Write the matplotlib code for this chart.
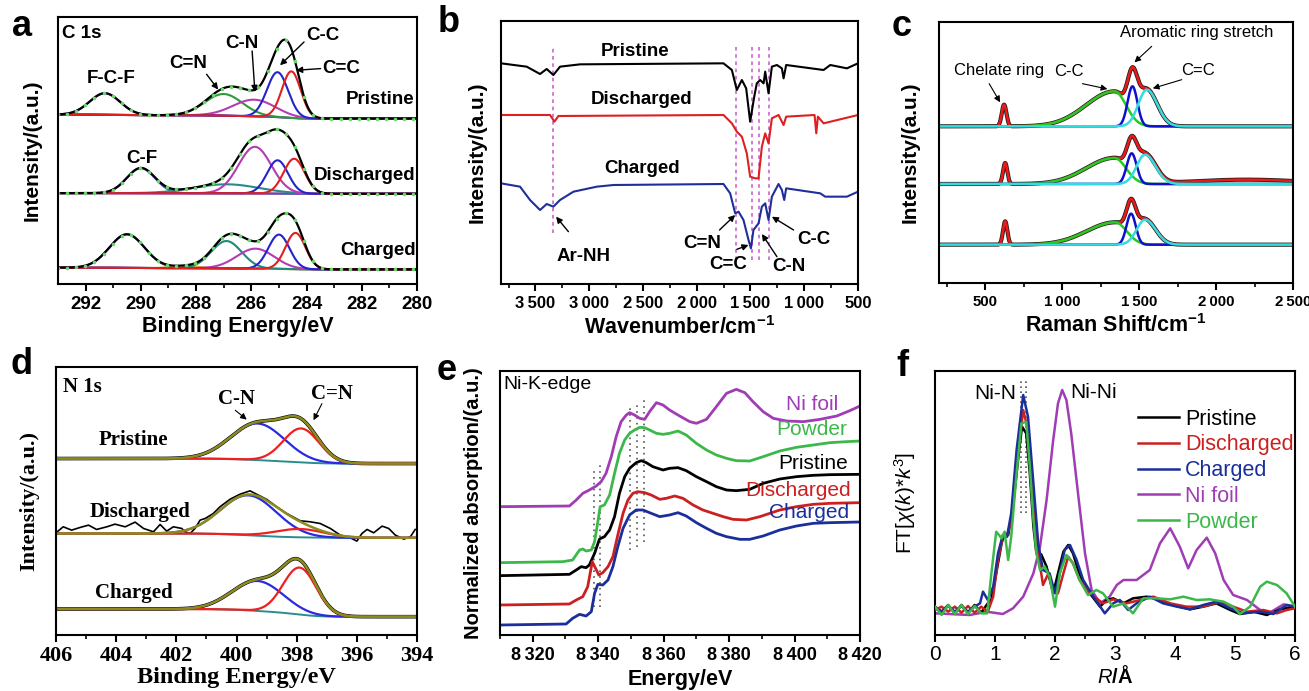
import numpy as np
import matplotlib
matplotlib.use('Agg')
import matplotlib.pyplot as plt
from matplotlib.ticker import FixedLocator

plt.rcParams['font.family'] = ['Liberation Sans', 'DejaVu Sans']
plt.rcParams['mathtext.fontset'] = 'custom'
plt.rcParams['mathtext.rm'] = 'Liberation Sans'
plt.rcParams['mathtext.it'] = 'Liberation Sans:italic'
plt.rcParams['mathtext.bf'] = 'Liberation Sans:bold'
plt.rcParams['mathtext.default'] = 'regular'
plt.rcParams['axes.linewidth'] = 1.5

TS = '\u2009'

# ====================== DATA ======================
# ---- (a) C 1s XPS : peak-fit components (centre eV, height a.u., FWHM eV)
a_names = ['Pristine', 'Discharged', 'Charged']
a_base_left = [509, 273, 49]     # background level at 293 eV
a_base_right = [497, 271, 44]    # background level at 280 eV
a_pris_center = [291.3, 287.0, 285.9, 285.05, 284.55]
a_pris_amp = [65, 65, 50, 135, 140]
a_pris_fwhm = [1.3, 1.6, 1.8, 0.9, 0.8]
a_dis_center = [290.0, 286.9, 285.87, 285.05, 284.45]
a_dis_amp = [75, 27, 140, 100, 105]
a_dis_fwhm = [1.2, 2.8, 1.4, 0.9, 0.9]
a_chg_center = [290.5, 288.4, 286.9, 285.85, 285.0, 284.4]
a_chg_amp = [101, 6, 82, 60, 103, 109]
a_chg_fwhm = [1.5, 1.2, 1.3, 1.6, 0.9, 0.85]

# ---- (b) FTIR spectra (wavenumber, transmittance a.u.)
b_pris_wn = [3820, 3581, 3457, 3395, 3333, 3271, 3084, 1751, 1673, 1627, 1580, 1540, 1503, 1465,
             1441, 1410, 1378, 1363, 1332, 1301, 1254, 1208, 1192, 1168, 820, 758, 603, 500]
b_pris_y = [662, 652, 630, 645, 627, 652, 659, 662, 642, 582, 612, 587, 487, 562,
            602, 612, 602, 637, 572, 652, 657, 647, 617, 657, 642, 657, 647, 662]
b_dis_wn = [3820, 3364, 3323, 3286, 1751, 1673, 1627, 1580, 1534, 1503, 1456, 1425, 1394, 1363,
            1332, 1301, 1239, 1192, 1168, 904, 888, 873, 820, 500]
b_dis_y = [507, 507, 487, 504, 507, 482, 457, 442, 392, 322, 317, 317, 412, 452,
           422, 497, 507, 477, 502, 507, 452, 502, 482, 507]
b_chg_wn = [3820, 3643, 3550, 3457, 3395, 3333, 3271, 3146, 2929, 2774, 1751, 1689, 1642, 1611,
            1565, 1518, 1496, 1472, 1425, 1394, 1363, 1332, 1301, 1239, 1208, 1186, 1168, 851,
            805, 603, 500]
b_chg_y = [302, 292, 252, 222, 240, 232, 252, 277, 292, 297, 300, 272, 212, 217,
           192, 132, 107, 162, 182, 232, 242, 192, 262, 300, 282, 252, 287, 272,
           262, 262, 277]
b_marker_wn = [3333, 1633, 1487, 1425, 1332]

# ---- (c) Raman : components (centre cm-1, height, sigma left, sigma right)
c_base = [470, 297, 115]
c_chel = [[623, 65, 15, 15], [630, 63, 14, 14], [630, 70, 14, 14]]
c_cc = [[1340, 105, 185, 75], [1340, 78, 185, 75], [1344, 67, 185, 75]]
c_arom = [[1457, 120, 32, 32], [1452, 92, 32, 32], [1448, 93, 30, 30]]
c_ceqc = [[1550, 110, 55, 68], [1539, 88, 55, 68], [1539, 75, 55, 68]]
c_broad = [[2200, 0, 350, 350], [2200, 13, 350, 350], [2200, 0, 350, 350]]

# ---- (d) N 1s XPS : components (centre eV, height, FWHM eV)
d_names = ['Pristine', 'Discharged', 'Charged']
d_base_left = [530, 305, 78]
d_base_right = [515, 292, 55]
d_cn_center = [399.3, 399.6, 399.3]
d_cn_amp = [110, 120, 90]
d_cn_fwhm = [2.1, 2.2, 2.0]
d_ceqn_center = [397.85, 397.9, 397.9]
d_ceqn_amp = [102, 25, 141]
d_ceqn_fwhm = [1.4, 1.9, 1.3]
d_dis_raw_be = [406.0, 405.76, 405.48, 405.2, 404.92, 404.65, 404.31, 404.04, 403.7, 403.37,
                403.09, 402.76, 402.54, 402.32, 402.1, 401.82, 401.71, 401.54, 401.38, 401.21,
                401.04, 400.77, 400.55, 400.21, 399.88, 399.55, 399.27, 398.99, 398.66, 398.33,
                397.88, 397.55, 397.22, 396.88, 396.55, 396.22, 396.0, 395.83, 395.66, 395.44,
                395.16, 394.94, 394.72, 394.44, 394.22, 394.06]
d_dis_raw_y = [307, 325, 315, 323, 330, 317, 325, 333, 325, 339,
               320, 310, 332, 312, 325, 320, 310, 305, 320, 345,
               350, 365, 385, 408, 423, 433, 420, 407, 385, 365,
               343, 340, 335, 320, 300, 292, 282, 305, 317, 307,
               327, 320, 300, 288, 295, 317]

# ---- (e) Ni K-edge XANES (energy eV, absorption a.u.)
e_foil_E = [8310, 8331.2, 8333.3, 8335.3, 8337.3, 8339.4, 8340.9, 8342.4, 8344.0, 8345.5, 8347.0,
            8348.6, 8349.6, 8351.1, 8352.7, 8354.2, 8355.7, 8357.8, 8359.8, 8361.8, 8364.9, 8368.0,
            8370.0, 8373.1, 8376.1, 8379.2, 8382.2, 8384.8, 8387.3, 8390.4, 8393.5, 8397.6, 8402.7,
            8407.8, 8412.9, 8416.9, 8420]
e_foil_y = [385, 387, 405, 425, 435, 447, 460, 485, 535, 595, 640,
            660, 667, 660, 650, 647, 670, 697, 690, 675, 657, 640,
            635, 647, 685, 725, 737, 727, 700, 670, 650, 642, 640,
            647, 657, 673, 687]
e_pow_E = [8310, 8329.2, 8332.2, 8334.3, 8335.3, 8336.3, 8337.9, 8338.9, 8339.9, 8340.6, 8341.9,
           8343.5, 8345.0, 8346.5, 8348.1, 8349.6, 8351.1, 8352.7, 8354.2, 8355.7, 8357.8, 8359.8,
           8361.8, 8364.4, 8366.9, 8370.0, 8373.1, 8376.1, 8379.2, 8382.2, 8386.3, 8390.4, 8395.5,
           8400.6, 8405.7, 8410.8, 8415.9, 8420]
e_pow_y = [217, 220, 225, 255, 258, 252, 255, 280, 340, 385, 390,
           420, 485, 545, 585, 605, 615, 623, 622, 615, 605, 602,
           605, 612, 600, 575, 555, 540, 530, 523, 522, 535, 552,
           563, 570, 577, 580, 582]
e_pris_E = [8310, 8331.2, 8333.3, 8334.8, 8336.3, 8337.3, 8338.9, 8340.4, 8341.9, 8343.5, 8345.0,
            8346.5, 8348.1, 8349.6, 8351.6, 8353.2, 8354.7, 8356.7, 8359.8, 8361.8, 8364.4, 8366.9,
            8370.0, 8373.1, 8376.1, 8379.2, 8382.2, 8386.3, 8390.4, 8395.5, 8400.6, 8405.7, 8410.8,
            8420]
e_pris_y = [178, 182, 195, 205, 202, 210, 245, 288, 295, 315, 355,
            425, 475, 500, 517, 523, 517, 505, 495, 500, 502, 493,
            475, 460, 445, 435, 433, 437, 455, 468, 475, 479, 481,
            482]
e_dis_E = [8310, 8331.2, 8333.3, 8335.3, 8336.8, 8338.2, 8339.2, 8340.2, 8341.4, 8343.0, 8344.5,
           8346.0, 8347.6, 8349.1, 8350.6, 8352.1, 8354.2, 8356.2, 8358.8, 8360.8, 8363.4, 8365.9,
           8369.0, 8372.0, 8375.1, 8378.2, 8381.2, 8385.3, 8389.4, 8395.5, 8400.6, 8405.7, 8410.8,
           8420]
e_dis_y = [90, 93, 105, 115, 145, 220, 200, 180, 187, 205, 235,
           300, 365, 405, 425, 430, 427, 420, 407, 410, 417, 410,
           390, 375, 365, 355, 347, 345, 355, 375, 385, 392, 395,
           397]
e_chg_E = [8310, 8330.2, 8332.2, 8334.3, 8336.3, 8337.9, 8338.9, 8339.9, 8341.4, 8343.0, 8344.5,
           8346.0, 8347.6, 8349.6, 8351.6, 8353.7, 8355.7, 8358.8, 8361.8, 8364.4, 8366.9, 8370.0,
           8373.1, 8376.1, 8379.2, 8383.3, 8386.3, 8390.4, 8395.5, 8400.6, 8405.7, 8410.8, 8420]
e_chg_y = [30, 33, 50, 62, 57, 70, 125, 152, 150, 165, 205,
           265, 320, 360, 375, 375, 367, 355, 360, 367, 357, 337,
           320, 305, 295, 287, 287, 297, 315, 327, 335, 337, 339]
e_guide_E = [8338.6, 8340.5, 8349.8, 8352.0, 8353.9]
e_guide_lo = [85, 85, 255, 265, 280]
e_guide_hi = [500, 520, 685, 700, 710]

# ---- (f) EXAFS FT (R in Angstrom, magnitude a.u.)
f_pris_R = [0, 0.11, 0.22, 0.33, 0.44, 0.55, 0.66, 0.77, 0.88, 0.94, 1.02, 1.11, 1.16, 1.22, 1.30,
            1.39, 1.45, 1.52, 1.58, 1.64, 1.69, 1.77, 1.86, 1.97, 2.05, 2.14, 2.22, 2.30, 2.41, 2.58,
            2.75, 2.86, 2.97, 3.14, 3.30, 3.53, 3.75, 3.97, 4.25, 4.47, 4.69, 4.92, 5.08, 5.31, 5.53,
            5.75, 6.0]
f_pris_y = [85, 70, 90, 65, 90, 67, 90, 67, 95, 105, 185, 275, 305, 300, 385,
            535, 625, 605, 485, 325, 245, 242, 205, 125, 185, 250, 270, 245, 180, 125,
            85, 105, 110, 95, 110, 115, 105, 90, 77, 85, 95, 75, 63, 70, 60,
            77, 85]
f_dis_R = [0, 0.11, 0.22, 0.33, 0.44, 0.55, 0.66, 0.77, 0.88, 0.97, 1.05, 1.13, 1.20, 1.27, 1.36,
           1.47, 1.55, 1.64, 1.72, 1.80, 1.89, 1.97, 2.05, 2.14, 2.22, 2.30, 2.41, 2.58, 2.80, 2.97,
           3.19, 3.42, 3.64, 3.92, 4.19, 4.47, 4.75, 4.97, 5.20, 5.47, 5.70, 5.86, 6.0]
f_dis_y = [75, 85, 70, 85, 67, 87, 67, 85, 70, 115, 225, 295, 295, 345, 515,
           675, 615, 415, 245, 150, 185, 135, 125, 185, 235, 215, 165, 125, 95, 107,
           95, 105, 115, 95, 85, 85, 100, 85, 70, 75, 65, 75, 80]
f_chg_R = [0, 0.11, 0.22, 0.33, 0.44, 0.55, 0.66, 0.75, 0.80, 0.88, 0.97, 1.05, 1.13, 1.20, 1.27,
           1.36, 1.47, 1.55, 1.64, 1.72, 1.80, 1.91, 2.00, 2.08, 2.16, 2.25, 2.36, 2.47, 2.64, 2.83,
           2.97, 3.08, 3.22, 3.36, 3.58, 3.80, 4.03, 4.25, 4.47, 4.69, 4.92, 5.14, 5.42, 5.64, 5.86,
           6.0]
f_chg_y = [80, 70, 87, 70, 87, 70, 85, 95, 130, 105, 145, 245, 300, 295, 365,
           555, 720, 655, 455, 275, 195, 185, 125, 185, 255, 270, 225, 165, 115, 65,
           95, 105, 75, 95, 115, 95, 85, 77, 90, 100, 80, 65, 70, 63, 90,
           85]
f_foil_R = [0, 0.58, 0.86, 1.13, 1.30, 1.47, 1.64, 1.75, 1.86, 1.97, 2.05, 2.12, 2.19, 2.27, 2.39,
            2.50, 2.61, 2.75, 2.91, 3.03, 3.14, 3.36, 3.58, 3.75, 3.92, 4.08, 4.22, 4.36, 4.53, 4.67,
            4.81, 4.97, 5.20, 5.42, 5.58, 5.81, 6.0]
f_foil_y = [65, 60, 70, 63, 80, 115, 185, 265, 405, 585, 695, 735, 705, 605, 415,
            245, 135, 95, 115, 150, 165, 165, 195, 275, 320, 265, 200, 255, 292, 245,
            165, 120, 105, 75, 67, 92, 85]
f_pow_R = [0, 0.11, 0.22, 0.33, 0.44, 0.55, 0.66, 0.77, 0.87, 0.94, 1.02, 1.11, 1.16, 1.22, 1.27,
           1.36, 1.44, 1.52, 1.58, 1.64, 1.69, 1.75, 1.83, 1.91, 2.00, 2.08, 2.19, 2.30, 2.41, 2.55,
           2.69, 2.80, 2.97, 3.14, 3.30, 3.47, 3.69, 3.92, 4.14, 4.36, 4.58, 4.81, 4.97, 5.08, 5.25,
           5.42, 5.53, 5.70, 5.86, 6.0]
f_pow_y = [85, 60, 90, 63, 90, 63, 87, 65, 65, 185, 310, 290, 310, 225, 295,
           485, 635, 640, 505, 345, 245, 195, 205, 175, 85, 185, 240, 215, 165, 120,
           135, 125, 85, 95, 65, 110, 110, 107, 115, 105, 107, 100, 85, 63, 85,
           145, 160, 150, 125, 85]
f_guide_R = [1.44, 1.51]

# ====================== HELPERS ======================
def gauss(x, c, a, fwhm):
    return a * np.exp(-4 * np.log(2) * (x - c) ** 2 / fwhm ** 2)

def split_gauss(x, c, a, sl, sr):
    s = np.where(x < c, sl, sr)
    return a * np.exp(-(x - c) ** 2 / (2 * s ** 2))

def shirley(p, left, right):
    cum = np.cumsum(p[::-1])[::-1]
    return right + (left - right) * cum / cum[0]

W, H = 1309, 691
fig = plt.figure(figsize=(W / 100, H / 100), dpi=100)

def add_axes(l, t, r, b):
    return fig.add_axes([l / W, 1 - b / H, (r - l) / W, (b - t) / H])

def style_x(ax, major, minor, labels, fs, weight='bold', family='Liberation Sans', pad=4):
    ax.set_xticks(major)
    ax.set_xticklabels(labels, fontsize=fs, fontweight=weight, family=family)
    ax.xaxis.set_minor_locator(FixedLocator(minor))
    ax.tick_params(axis='x', which='major', direction='out', length=5, width=1.5, pad=pad)
    ax.tick_params(axis='x', which='minor', direction='out', length=3, width=1.2)
    ax.set_yticks([])

def arrow(ax, xy_from, xy_to, lw=1.0):
    ax.annotate('', xy=xy_to, xytext=xy_from,
                arrowprops=dict(arrowstyle='-|>', color='black', lw=lw,
                                mutation_scale=9, shrinkA=0, shrinkB=0))

# ====================== PANEL A ======================
axa = add_axes(58, 17, 417, 284)
xa = np.linspace(293, 280, 1301)
a_sets = [(a_pris_center, a_pris_amp, a_pris_fwhm,
           ['#5b4bd0', '#2e9a3e', '#b43cb4', '#2424c8', '#e02020']),
          (a_dis_center, a_dis_amp, a_dis_fwhm,
           ['#5b4bd0', '#2a8a8a', '#b43cb4', '#2424c8', '#e02020']),
          (a_chg_center, a_chg_amp, a_chg_fwhm,
           ['#5b4bd0', '#e0a030', '#1f8a7a', '#b43cb4', '#2424c8', '#e02020'])]
for i, (cs, amps, fws, cols) in enumerate(a_sets):
    comps = [gauss(xa, c, a, w) for c, a, w in zip(cs, amps, fws)]
    tot = np.sum(comps, axis=0)
    base = shirley(tot, a_base_left[i], a_base_right[i])
    axa.plot(xa, base, color='#8b1a1a', lw=1.3)
    for comp, col in zip(comps, cols):
        axa.plot(xa, base + comp, color=col, lw=1.5)
    axa.plot(xa, base + tot, color='black', lw=1.6)
    axa.plot(xa[::33], (base + tot)[::33], 'o', ms=2.6, color='#6ad86a', mec='none')
axa.set_xlim(293, 280)
axa.set_ylim(0, 802)
style_x(axa, [292, 290, 288, 286, 284, 282, 280], [291, 289, 287, 285, 283, 281],
        ['292', '290', '288', '286', '284', '282', '280'], 13.5)
axa.set_xlabel('Binding Energy/eV', fontsize=15.5, fontweight='bold', labelpad=2)
axa.set_ylabel('Intensity/(a.u.)', fontsize=15, fontweight='bold', labelpad=12)
tkw = dict(fontsize=13.5, fontweight='bold')
axa.text(292.85, 752, 'C 1s', ha='left', va='center', **tkw)
axa.text(291.07, 617, 'F-C-F', ha='center', va='center', **tkw)
axa.text(288.29, 662, 'C=N', ha='center', va='center', **tkw)
axa.text(286.35, 722, 'C-N', ha='center', va='center', **tkw)
axa.text(283.41, 747, 'C-C', ha='center', va='center', **tkw)
axa.text(282.73, 647, 'C=C', ha='center', va='center', **tkw)
axa.text(280.1, 554, 'Pristine', ha='right', va='center', **tkw)
axa.text(280.05, 327, 'Discharged', ha='right', va='center', **tkw)
axa.text(280.05, 102, 'Charged', ha='right', va='center', **tkw)
axa.text(289.98, 377, 'C-F', ha='center', va='center', **tkw)
arrow(axa, (287.62, 630), (287.2, 584))
arrow(axa, (285.97, 700), (285.87, 577))
arrow(axa, (284.09, 727), (284.96, 657))
arrow(axa, (283.49, 647), (284.38, 642))

# ====================== PANEL B ======================
axb = add_axes(501, 21, 858, 284)
for k, wn in enumerate(b_marker_wn):
    lo = 152 if k == 0 else 72
    axb.plot([wn, wn], [lo, 712], color='#d070d0', lw=1.3, ls=(0, (2, 2)))
axb.plot(b_pris_wn, b_pris_y, color='black', lw=1.5)
axb.plot(b_dis_wn, b_dis_y, color='#dd2020', lw=1.5)
axb.plot(b_chg_wn, b_chg_y, color='#1f2f9a', lw=1.5)
axb.set_xlim(3820, 500)
axb.set_ylim(0, 789)
style_x(axb, [3500, 3000, 2500, 2000, 1500, 1000, 500],
        [3750, 3250, 2750, 2250, 1750, 1250, 750],
        ['3' + TS + '500', '3' + TS + '000', '2' + TS + '500', '2' + TS + '000',
         '1' + TS + '500', '1' + TS + '000', '500'], 12)
axb.set_xlabel('Wavenumber/cm$^{-1}$', fontsize=15.5, fontweight='bold', labelpad=3)
axb.set_ylabel('Intensity/(a.u.)', fontsize=15, fontweight='bold', labelpad=10)
axb.text(2573, 697, 'Pristine', ha='center', va='center', **tkw)
axb.text(2511, 552, 'Discharged', ha='center', va='center', **tkw)
axb.text(2511, 347, 'Charged', ha='center', va='center', **tkw)
axb.text(3053, 82, 'Ar-NH', ha='center', va='center', **tkw)
axb.text(1952, 122, 'C=N', ha='center', va='center', **tkw)
axb.text(1704, 57, 'C=C', ha='center', va='center', **tkw)
axb.text(1146, 52, 'C-N', ha='center', va='center', **tkw)
axb.text(913, 132, 'C-C', ha='center', va='center', **tkw)
arrow(axb, (3193, 157), (3308, 202))
arrow(axb, (1788, 162), (1642, 207))
arrow(axb, (1627, 104), (1518, 117))
arrow(axb, (1254, 82), (1394, 150))
arrow(axb, (1099, 162), (1301, 202))

# ====================== PANEL C ======================
axc = add_axes(939, 22, 1293, 283)
xc = np.linspace(200, 2500, 2301)
for i in range(3):
    base = c_base[i]
    chel = split_gauss(xc, *c_chel[i])
    cc = split_gauss(xc, *c_cc[i])
    ar = split_gauss(xc, *c_arom[i])
    ce = split_gauss(xc, *c_ceqc[i])
    br = split_gauss(xc, *c_broad[i])
    env = base + chel + cc + ar + ce + br
    axc.plot(xc, env, color='#222222', lw=3.0)
    axc.plot(xc, env, color='#ee1818', lw=1.8)
    axc.plot(xc, base + cc, color='#22cc22', lw=1.8)
    axc.plot(xc, base + ar, color='#1010cc', lw=1.8)
    axc.plot(xc, base + ce, color='#33dddd', lw=1.8)
axc.set_xlim(200, 2500)
axc.set_ylim(0, 783)
style_x(axc, [500, 1000, 1500, 2000, 2500], [250, 750, 1250, 1750, 2250],
        ['500', '1' + TS + '000', '1' + TS + '500', '2' + TS + '000', '2' + TS + '500'], 10.8)
axc.set_xlabel('Raman Shift/cm$^{-1}$', fontsize=15.5, fontweight='bold', labelpad=3)
axc.set_ylabel('Intensity/(a.u.)', fontsize=15, fontweight='bold', labelpad=14)
ckw = dict(fontsize=12, ha='center', va='center')
axc.text(587, 638, 'Chelate ring', **ckw)
axc.text(1041, 635, 'C-C', **ckw)
axc.text(1874, 750, 'Aromatic ring stretch', **ckw)
axc.text(1885, 638, 'C=C', **ckw)
arrow(axc, (526, 598), (597, 542), lw=0.8)
arrow(axc, (1132, 598), (1294, 582), lw=0.8)
arrow(axc, (1582, 710), (1470, 662), lw=0.8)
arrow(axc, (1777, 610), (1589, 584), lw=0.8)

# ====================== PANEL D ======================
axd = add_axes(56, 367, 417, 635)
xd = np.linspace(406, 394, 1201)
for i in range(3):
    cn = gauss(xd, d_cn_center[i], d_cn_amp[i], d_cn_fwhm[i])
    ceqn = gauss(xd, d_ceqn_center[i], d_ceqn_amp[i], d_ceqn_fwhm[i])
    tot = cn + ceqn
    base = shirley(tot, d_base_left[i], d_base_right[i])
    if i == 1:
        axd.plot(d_dis_raw_be, d_dis_raw_y, color='black', lw=1.2)
    else:
        axd.plot(xd, base + tot, color='black', lw=2.6)
    axd.plot(xd, base, color='#2a8c8c', lw=1.4)
    axd.plot(xd, base + cn, color='#2a2ae0', lw=1.6)
    axd.plot(xd, base + ceqn, color='#ee2020', lw=1.6)
    axd.plot(xd, base + tot, color='#8c8c1c', lw=1.8)
axd.set_xlim(406, 394)
axd.set_ylim(0, 805)
style_x(axd, [406, 404, 402, 400, 398, 396, 394], [405, 403, 401, 399, 397, 395],
        ['406', '404', '402', '400', '398', '396', '394'], 16, family='Liberation Serif', pad=3)
axd.set_xlabel('Binding Energy/eV', fontsize=17.5, fontweight='bold', family='Liberation Serif',
               labelpad=1)
axd.set_ylabel('Intensity/(a.u.)', fontsize=16, fontweight='bold', family='Liberation Serif',
               labelpad=12)
dkw = dict(fontsize=15, fontweight='bold', family='Liberation Serif', va='center')
axd.text(405.76, 745, 'N 1s', ha='left', **dkw)
axd.text(399.99, 710, 'C-N', ha='center', **dkw)
axd.text(396.83, 725, 'C=N', ha='center', **dkw)
axd.text(403.43, 585, 'Pristine', ha='center', **dkw)
axd.text(403.21, 370, 'Discharged', ha='center', **dkw)
axd.text(403.43, 125, 'Charged', ha='center', **dkw)
arrow(axd, (400.04, 675), (399.66, 647), lw=0.8)
arrow(axd, (397.16, 695), (397.44, 645), lw=0.8)

# ====================== PANEL E ======================
axe = add_axes(500, 371, 860, 635)
for E, lo, hi in zip(e_guide_E, e_guide_lo, e_guide_hi):
    axe.plot([E, E], [lo, hi], color='#555555', lw=1.2, ls=(0, (1, 2.5)))
axe.plot(e_foil_E, e_foil_y, color='#a03cb4', lw=2)
axe.plot(e_pow_E, e_pow_y, color='#3cb84a', lw=2)
axe.plot(e_pris_E, e_pris_y, color='black', lw=2)
axe.plot(e_dis_E, e_dis_y, color='#cc2020', lw=2)
axe.plot(e_chg_E, e_chg_y, color='#1a2f9a', lw=2)
axe.set_xlim(8310, 8420)
axe.set_ylim(0, 792)
style_x(axe, [8320, 8340, 8360, 8380, 8400, 8420], [8310, 8330, 8350, 8370, 8390, 8410],
        ['8' + TS + '320', '8' + TS + '340', '8' + TS + '360', '8' + TS + '380',
         '8' + TS + '400', '8' + TS + '420'], 13)
axe.set_xlabel('Energy/eV', fontsize=15.5, fontweight='bold', labelpad=3)
axe.set_ylabel('Normalized absorption/(a.u.)', fontsize=14.5, fontweight='bold', labelpad=12)
axe.text(8311.0, 750, 'Ni-K-edge', ha='left', va='center', fontsize=14)
ekw = dict(fontsize=15, ha='right', va='center')
axe.text(8413.4, 690, 'Ni foil', color='#a03cb4', **ekw)
axe.text(8416.2, 615, 'Powder', color='#3cb84a', **ekw)
axe.text(8416.4, 513, 'Pristine', color='black', **ekw)
axe.text(8417.1, 433, 'Discharged', color='#cc2020', **ekw)
axe.text(8416.7, 367, 'Charged', color='#1a2f9a', **ekw)

# ====================== PANEL F ======================
axf = add_axes(935, 371, 1295, 635)
for R in f_guide_R:
    axf.plot([R, R], [365, 770], color='#555555', lw=1.2, ls=(0, (1, 2)))
axf.plot(f_foil_R, f_foil_y, color='#a03cb4', lw=1.8, label='Ni foil', zorder=2)
axf.plot(f_pris_R, f_pris_y, color='black', lw=1.8, label='Pristine', zorder=3)
axf.plot(f_dis_R, f_dis_y, color='#cc2020', lw=1.8, label='Discharged', zorder=3)
axf.plot(f_chg_R, f_chg_y, color='#1a2f9a', lw=1.8, label='Charged', zorder=3)
axf.plot(f_pow_R, f_pow_y, color='#3cb84a', lw=1.8, label='Powder', zorder=4)
handles, labels = axf.get_legend_handles_labels()
order = [labels.index(n) for n in ['Pristine', 'Discharged', 'Charged', 'Ni foil', 'Powder']]
axf.legend([handles[k] for k in order], [labels[k] for k in order], loc='upper left',
           bbox_to_anchor=(0.54, 0.89), frameon=False, fontsize=15.5, labelcolor='linecolor',
           handlelength=1.9, handletextpad=0.3, labelspacing=0.22, borderaxespad=0)
axf.set_xlim(0, 6)
axf.set_ylim(0, 792)
style_x(axf, [0, 1, 2, 3, 4, 5, 6], [0.5, 1.5, 2.5, 3.5, 4.5, 5.5],
        ['0', '1', '2', '3', '4', '5', '6'], 15, weight='normal', pad=2)
axf.set_xlabel('$\\mathit{R}$/Å', fontsize=14.5, fontweight='bold', labelpad=1)
axf.set_ylabel('FT[$\\mathit{\\chi}$($\\mathit{k}$)*$\\mathit{k}^{3}$]', fontsize=15,
               labelpad=12)
axf.text(1.0, 725, 'Ni-N', ha='center', va='center', fontsize=15)
axf.text(2.64, 727, 'Ni-Ni', ha='center', va='center', fontsize=15)

# ====================== PANEL LETTERS ======================
for lab, (px, py) in zip('abcdef', [(22, 27), (449, 23), (902, 27), (22, 365), (447, 370),
                                    (902, 367)]):
    fig.text(px / W, 1 - py / H, lab, fontsize=26, fontweight='bold', ha='center', va='center')

fig.savefig('out.png', dpi=100)
